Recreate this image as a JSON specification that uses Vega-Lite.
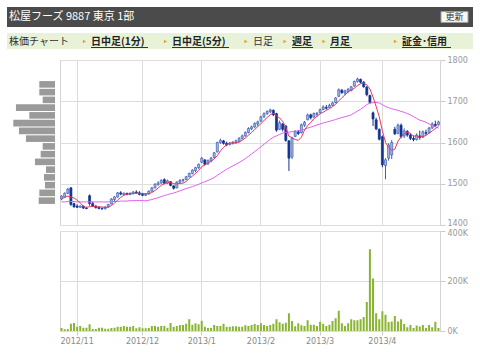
{
  "$schema": "https://vega.github.io/schema/vega-lite/v6.json",
  "background": "white",
  "padding": {"left": 7, "top": 7, "right": 7, "bottom": 4},
  "config": {"font": "DejaVu Sans", "view": {"stroke": null}},
  "datasets": {
    "px": [
      {"d":"2012-10-25","o":1463,"h":1472,"l":1460,"c":1470,"v":12000,"m5":1464,"m25":1456},
      {"d":"2012-10-26","o":1468,"h":1479,"l":1466,"c":1477,"v":7000,"m5":1467,"m25":1456},
      {"d":"2012-10-29","o":1477,"h":1490,"l":1475,"c":1487,"v":8000,"m5":1470,"m25":1457},
      {"d":"2012-10-30","o":1490,"h":1492,"l":1446,"c":1450,"v":29000,"m5":1468,"m25":1457},
      {"d":"2012-10-31","o":1452,"h":1454,"l":1442,"c":1444,"v":32000,"m5":1465.6,"m25":1457},
      {"d":"2012-11-01","o":1446,"h":1450,"l":1441,"c":1443,"v":17000,"m5":1460.2,"m25":1456},
      {"d":"2012-11-02","o":1443,"h":1448,"l":1441,"c":1446,"v":20000,"m5":1454,"m25":1456},
      {"d":"2012-11-05","o":1446,"h":1447,"l":1439,"c":1441,"v":13000,"m5":1444.8,"m25":1456},
      {"d":"2012-11-06","o":1441,"h":1444,"l":1438,"c":1440,"v":13000,"m5":1442.8,"m25":1456},
      {"d":"2012-11-07","o":1471,"h":1474,"l":1447,"c":1452,"v":27000,"m5":1444.4,"m25":1456},
      {"d":"2012-11-08","o":1452,"h":1457,"l":1444,"c":1446,"v":8000,"m5":1445,"m25":1456},
      {"d":"2012-11-09","o":1446,"h":1448,"l":1440,"c":1442,"v":8000,"m5":1444.2,"m25":1456},
      {"d":"2012-11-12","o":1443,"h":1445,"l":1438,"c":1440,"v":13000,"m5":1444,"m25":1456},
      {"d":"2012-11-13","o":1440,"h":1443,"l":1437,"c":1439,"v":13000,"m5":1443.8,"m25":1456},
      {"d":"2012-11-14","o":1439,"h":1445,"l":1438,"c":1444,"v":9000,"m5":1442.2,"m25":1456},
      {"d":"2012-11-15","o":1444,"h":1451,"l":1442,"c":1450,"v":9000,"m5":1443,"m25":1456},
      {"d":"2012-11-16","o":1451,"h":1465,"l":1450,"c":1463,"v":12000,"m5":1447.2,"m25":1457},
      {"d":"2012-11-19","o":1462,"h":1470,"l":1456,"c":1468,"v":13000,"m5":1452.8,"m25":1457},
      {"d":"2012-11-20","o":1468,"h":1480,"l":1466,"c":1478,"v":17000,"m5":1460.6,"m25":1457},
      {"d":"2012-11-21","o":1478,"h":1482,"l":1472,"c":1475,"v":17000,"m5":1466.8,"m25":1458},
      {"d":"2012-11-22","o":1474,"h":1479,"l":1472,"c":1477,"v":20000,"m5":1472.2,"m25":1458},
      {"d":"2012-11-26","o":1477,"h":1478,"l":1472,"c":1474,"v":17000,"m5":1474.4,"m25":1458},
      {"d":"2012-11-27","o":1474,"h":1479,"l":1472,"c":1477,"v":17000,"m5":1476.2,"m25":1459},
      {"d":"2012-11-28","o":1476,"h":1482,"l":1474,"c":1480,"v":20000,"m5":1476.6,"m25":1459},
      {"d":"2012-11-29","o":1480,"h":1484,"l":1476,"c":1478,"v":11000,"m5":1477.2,"m25":1459.2},
      {"d":"2012-11-30","o":1478,"h":1482,"l":1472,"c":1474,"v":15000,"m5":1476.6,"m25":1459.4},
      {"d":"2012-12-03","o":1474,"h":1478,"l":1470,"c":1472,"v":11000,"m5":1476.2,"m25":1459.2},
      {"d":"2012-12-04","o":1472,"h":1477,"l":1470,"c":1475,"v":11000,"m5":1475.8,"m25":1458.7},
      {"d":"2012-12-05","o":1475,"h":1484,"l":1474,"c":1482,"v":12000,"m5":1476.2,"m25":1460},
      {"d":"2012-12-06","o":1482,"h":1492,"l":1481,"c":1490,"v":20000,"m5":1478.6,"m25":1461.8},
      {"d":"2012-12-07","o":1490,"h":1501,"l":1489,"c":1499,"v":20000,"m5":1483.6,"m25":1464.1},
      {"d":"2012-12-10","o":1498,"h":1506,"l":1495,"c":1502,"v":17000,"m5":1489.6,"m25":1466.3},
      {"d":"2012-12-11","o":1502,"h":1511,"l":1499,"c":1508,"v":20000,"m5":1496.2,"m25":1469},
      {"d":"2012-12-12","o":1510,"h":1513,"l":1499,"c":1501,"v":20000,"m5":1500,"m25":1471.4},
      {"d":"2012-12-13","o":1501,"h":1510,"l":1500,"c":1507,"v":13000,"m5":1503.4,"m25":1473.6},
      {"d":"2012-12-14","o":1505,"h":1506,"l":1494,"c":1496,"v":32000,"m5":1502.8,"m25":1475.6},
      {"d":"2012-12-17","o":1495,"h":1496,"l":1486,"c":1489,"v":17000,"m5":1500.2,"m25":1477.5},
      {"d":"2012-12-18","o":1490,"h":1506,"l":1489,"c":1504,"v":20000,"m5":1499.4,"m25":1480.1},
      {"d":"2012-12-19","o":1504,"h":1511,"l":1501,"c":1508,"v":24000,"m5":1500.8,"m25":1482.8},
      {"d":"2012-12-20","o":1508,"h":1512,"l":1503,"c":1510,"v":24000,"m5":1501.4,"m25":1485.5},
      {"d":"2012-12-21","o":1510,"h":1519,"l":1509,"c":1517,"v":29000,"m5":1505.6,"m25":1488.2},
      {"d":"2012-12-25","o":1517,"h":1527,"l":1516,"c":1525,"v":47000,"m5":1512.8,"m25":1490.6},
      {"d":"2012-12-26","o":1525,"h":1535,"l":1523,"c":1533,"v":25000,"m5":1518.6,"m25":1493.2},
      {"d":"2012-12-27","o":1532,"h":1541,"l":1528,"c":1539,"v":31000,"m5":1524.8,"m25":1495.7},
      {"d":"2012-12-28","o":1539,"h":1549,"l":1536,"c":1547,"v":27000,"m5":1532.2,"m25":1498.6},
      {"d":"2013-01-04","o":1552,"h":1565,"l":1550,"c":1562,"v":41000,"m5":1541.2,"m25":1502},
      {"d":"2013-01-07","o":1558,"h":1559,"l":1544,"c":1547,"v":17000,"m5":1545.6,"m25":1504.9},
      {"d":"2013-01-08","o":1548,"h":1559,"l":1546,"c":1556,"v":12000,"m5":1550.2,"m25":1508},
      {"d":"2013-01-09","o":1555,"h":1565,"l":1552,"c":1562,"v":12000,"m5":1554.8,"m25":1511.3},
      {"d":"2013-01-10","o":1564,"h":1577,"l":1562,"c":1575,"v":24000,"m5":1560.4,"m25":1515.2},
      {"d":"2013-01-11","o":1577,"h":1602,"l":1576,"c":1600,"v":20000,"m5":1568,"m25":1520.2},
      {"d":"2013-01-15","o":1600,"h":1609,"l":1597,"c":1605,"v":20000,"m5":1579.6,"m25":1525.6},
      {"d":"2013-01-16","o":1604,"h":1606,"l":1595,"c":1598,"v":29000,"m5":1588,"m25":1530.5},
      {"d":"2013-01-17","o":1598,"h":1602,"l":1591,"c":1594,"v":17000,"m5":1594.4,"m25":1535},
      {"d":"2013-01-18","o":1595,"h":1601,"l":1593,"c":1598,"v":17000,"m5":1599,"m25":1539.3},
      {"d":"2013-01-21","o":1598,"h":1604,"l":1595,"c":1600,"v":19000,"m5":1599,"m25":1543.3},
      {"d":"2013-01-22","o":1600,"h":1607,"l":1597,"c":1604,"v":19000,"m5":1598.8,"m25":1547.4},
      {"d":"2013-01-23","o":1603,"h":1613,"l":1600,"c":1610,"v":17000,"m5":1601.2,"m25":1551.5},
      {"d":"2013-01-24","o":1610,"h":1619,"l":1607,"c":1616,"v":17000,"m5":1605.6,"m25":1556.1},
      {"d":"2013-01-25","o":1616,"h":1627,"l":1614,"c":1624,"v":23000,"m5":1610.8,"m25":1560.8},
      {"d":"2013-01-28","o":1624,"h":1637,"l":1622,"c":1634,"v":20000,"m5":1617.6,"m25":1566.3},
      {"d":"2013-01-29","o":1633,"h":1641,"l":1630,"c":1638,"v":24000,"m5":1624.4,"m25":1572.2},
      {"d":"2013-01-30","o":1638,"h":1649,"l":1635,"c":1646,"v":28000,"m5":1631.6,"m25":1577.9},
      {"d":"2013-01-31","o":1645,"h":1653,"l":1639,"c":1650,"v":24000,"m5":1638.4,"m25":1583.6},
      {"d":"2013-02-01","o":1652,"h":1665,"l":1650,"c":1662,"v":31000,"m5":1646,"m25":1589.7},
      {"d":"2013-02-04","o":1662,"h":1673,"l":1660,"c":1670,"v":24000,"m5":1653.2,"m25":1595.8},
      {"d":"2013-02-05","o":1670,"h":1678,"l":1667,"c":1675,"v":20000,"m5":1660.6,"m25":1601.8},
      {"d":"2013-02-06","o":1675,"h":1682,"l":1671,"c":1679,"v":24000,"m5":1667.2,"m25":1607.6},
      {"d":"2013-02-07","o":1678,"h":1680,"l":1664,"c":1667,"v":29000,"m5":1670.6,"m25":1612.8},
      {"d":"2013-02-08","o":1670,"h":1672,"l":1626,"c":1630,"v":47000,"m5":1664.2,"m25":1616.1},
      {"d":"2013-02-12","o":1632,"h":1653,"l":1630,"c":1648,"v":35000,"m5":1659.8,"m25":1619.5},
      {"d":"2013-02-13","o":1645,"h":1647,"l":1627,"c":1632,"v":29000,"m5":1651.2,"m25":1622.9},
      {"d":"2013-02-14","o":1640,"h":1642,"l":1602,"c":1605,"v":33000,"m5":1636.4,"m25":1624.9},
      {"d":"2013-02-15","o":1604,"h":1606,"l":1531,"c":1562,"v":71000,"m5":1615.4,"m25":1624.9},
      {"d":"2013-02-18","o":1565,"h":1614,"l":1560,"c":1611,"v":40000,"m5":1611.6,"m25":1626.3},
      {"d":"2013-02-19","o":1615,"h":1630,"l":1613,"c":1626,"v":19000,"m5":1607.2,"m25":1627.4},
      {"d":"2013-02-20","o":1626,"h":1630,"l":1618,"c":1622,"v":31000,"m5":1605.2,"m25":1628},
      {"d":"2013-02-21","o":1624,"h":1646,"l":1622,"c":1643,"v":23000,"m5":1612.8,"m25":1629.8},
      {"d":"2013-02-22","o":1642,"h":1652,"l":1638,"c":1649,"v":20000,"m5":1630.2,"m25":1632},
      {"d":"2013-02-25","o":1655,"h":1670,"l":1654,"c":1667,"v":43000,"m5":1641.4,"m25":1634.8},
      {"d":"2013-02-26","o":1667,"h":1670,"l":1656,"c":1660,"v":25000,"m5":1648.2,"m25":1637.2},
      {"d":"2013-02-27","o":1662,"h":1673,"l":1660,"c":1670,"v":25000,"m5":1657.8,"m25":1639.8},
      {"d":"2013-02-28","o":1668,"h":1674,"l":1663,"c":1671,"v":20000,"m5":1663.4,"m25":1642.3},
      {"d":"2013-03-01","o":1673,"h":1682,"l":1670,"c":1680,"v":37000,"m5":1669.6,"m25":1644.8},
      {"d":"2013-03-04","o":1680,"h":1690,"l":1678,"c":1686,"v":29000,"m5":1673.4,"m25":1647.3},
      {"d":"2013-03-05","o":1685,"h":1691,"l":1680,"c":1683,"v":20000,"m5":1678,"m25":1649.3},
      {"d":"2013-03-06","o":1685,"h":1694,"l":1684,"c":1690,"v":25000,"m5":1682,"m25":1651.4},
      {"d":"2013-03-07","o":1690,"h":1699,"l":1688,"c":1696,"v":40000,"m5":1687,"m25":1653.4},
      {"d":"2013-03-08","o":1697,"h":1710,"l":1695,"c":1708,"v":51000,"m5":1692.6,"m25":1655.7},
      {"d":"2013-03-11","o":1712,"h":1731,"l":1710,"c":1728,"v":81000,"m5":1701,"m25":1658.3},
      {"d":"2013-03-12","o":1727,"h":1729,"l":1718,"c":1721,"v":31000,"m5":1708.6,"m25":1660.4},
      {"d":"2013-03-13","o":1720,"h":1728,"l":1715,"c":1725,"v":20000,"m5":1715.6,"m25":1662.4},
      {"d":"2013-03-14","o":1724,"h":1732,"l":1721,"c":1729,"v":31000,"m5":1722.2,"m25":1664.4},
      {"d":"2013-03-15","o":1726,"h":1737,"l":1724,"c":1735,"v":47000,"m5":1727.6,"m25":1667.1},
      {"d":"2013-03-18","o":1737,"h":1750,"l":1735,"c":1748,"v":43000,"m5":1731.6,"m25":1671.8},
      {"d":"2013-03-19","o":1748,"h":1757,"l":1745,"c":1754,"v":43000,"m5":1738.2,"m25":1676},
      {"d":"2013-03-21","o":1753,"h":1755,"l":1743,"c":1746,"v":47000,"m5":1742.4,"m25":1680.6},
      {"d":"2013-03-22","o":1746,"h":1749,"l":1733,"c":1735,"v":56000,"m5":1743.6,"m25":1685.8},
      {"d":"2013-03-25","o":1734,"h":1737,"l":1712,"c":1716,"v":116000,"m5":1739.8,"m25":1692},
      {"d":"2013-03-26","o":1714,"h":1716,"l":1694,"c":1697,"v":327000,"m5":1729.6,"m25":1695.4},
      {"d":"2013-03-27","o":1672,"h":1675,"l":1640,"c":1657,"v":210000,"m5":1710.2,"m25":1696.6},
      {"d":"2013-03-28","o":1655,"h":1660,"l":1630,"c":1633,"v":71000,"m5":1687.6,"m25":1697.1},
      {"d":"2013-03-29","o":1632,"h":1634,"l":1605,"c":1608,"v":47000,"m5":1662.2,"m25":1695.7},
      {"d":"2013-04-01","o":1614,"h":1617,"l":1540,"c":1546,"v":79000,"m5":1628.2,"m25":1691.6},
      {"d":"2013-04-02","o":1544,"h":1562,"l":1511,"c":1558,"v":65000,"m5":1600.4,"m25":1687.2},
      {"d":"2013-04-03","o":1562,"h":1598,"l":1556,"c":1594,"v":36000,"m5":1587.8,"m25":1684.6},
      {"d":"2013-04-04","o":1570,"h":1606,"l":1560,"c":1600,"v":38000,"m5":1581.2,"m25":1681.8},
      {"d":"2013-04-05","o":1632,"h":1638,"l":1618,"c":1621,"v":60000,"m5":1583.8,"m25":1679.8},
      {"d":"2013-04-08","o":1622,"h":1646,"l":1620,"c":1642,"v":38000,"m5":1603,"m25":1678.2},
      {"d":"2013-04-09","o":1642,"h":1646,"l":1610,"c":1614,"v":47000,"m5":1614.2,"m25":1675.4},
      {"d":"2013-04-10","o":1616,"h":1634,"l":1611,"c":1628,"v":28000,"m5":1621,"m25":1673.2},
      {"d":"2013-04-11","o":1627,"h":1630,"l":1614,"c":1618,"v":15000,"m5":1624.6,"m25":1670.3},
      {"d":"2013-04-12","o":1618,"h":1622,"l":1606,"c":1610,"v":24000,"m5":1622.4,"m25":1666.8},
      {"d":"2013-04-15","o":1610,"h":1617,"l":1603,"c":1607,"v":12000,"m5":1615.4,"m25":1662.8},
      {"d":"2013-04-16","o":1607,"h":1622,"l":1605,"c":1618,"v":22000,"m5":1616.2,"m25":1658.4},
      {"d":"2013-04-17","o":1616,"h":1629,"l":1607,"c":1612,"v":18000,"m5":1613,"m25":1654},
      {"d":"2013-04-18","o":1613,"h":1629,"l":1611,"c":1626,"v":24000,"m5":1614.6,"m25":1652},
      {"d":"2013-04-19","o":1624,"h":1631,"l":1618,"c":1622,"v":12000,"m5":1617,"m25":1649},
      {"d":"2013-04-22","o":1624,"h":1638,"l":1622,"c":1635,"v":24000,"m5":1622.6,"m25":1645},
      {"d":"2013-04-23","o":1635,"h":1649,"l":1633,"c":1645,"v":15000,"m5":1628,"m25":1641},
      {"d":"2013-04-24","o":1644,"h":1653,"l":1638,"c":1641,"v":37000,"m5":1633.8,"m25":1638},
      {"d":"2013-04-25","o":1643,"h":1653,"l":1641,"c":1650,"v":12000,"m5":1638.6,"m25":1635}
    ],
    "hist": [
      {"price":1750,"vol":196},{"price":1730,"vol":196},{"price":1710,"vol":154},{"price":1690,"vol":488},
      {"price":1670,"vol":321},{"price":1650,"vol":521},{"price":1630,"vol":450},{"price":1610,"vol":363},
      {"price":1590,"vol":154},{"price":1570,"vol":179},{"price":1550,"vol":250},{"price":1530,"vol":113},
      {"price":1510,"vol":138},{"price":1490,"vol":125},{"price":1470,"vol":196},{"price":1450,"vol":204}
    ]
  },
  "spacing": 6,
  "vconcat": [
    {
      "width": 466, "height": 20,
      "view": {"fill": "#4b4b4b", "stroke": null},
      "data": {"values": [{"title": "松屋フーズ 9887 東京 1部", "button": "更新"}]},
      "layer": [
        {"mark": {"type": "text", "align": "left", "baseline": "middle", "font": "Noto Sans CJK JP", "fontSize": 11, "color": "#ffffff"},
         "encoding": {"x": {"datum": 2, "type": "quantitative", "scale": {"domain": [0, 466], "nice": false, "zero": false}, "axis": null}, "text": {"field": "title"}}},
        {"mark": {"type": "point", "shape": "M-1,-0.4L1,-0.4L1,0.4L-1,0.4Z", "filled": true, "fill": "#f7f7f7", "stroke": "#a0a0a0", "strokeWidth": 1, "size": 729, "opacity": 1},
         "encoding": {"x": {"datum": 447.5, "type": "quantitative"}}},
        {"mark": {"type": "text", "align": "center", "baseline": "middle", "font": "Noto Sans CJK JP", "fontSize": 9, "color": "#333333"},
         "encoding": {"x": {"datum": 447.5, "type": "quantitative"}, "text": {"field": "button"}}}
      ]
    },
    {
      "width": 466, "height": 16,
      "view": {"fill": "#e7f2d8", "stroke": null},
      "data": {"values": [{"a": "株価チャート", "b": "日中足(1分)", "c": "日中足(5分)", "d": "日足", "e": "週足", "f": "月足", "g": "証金･信用"}]},
      "layer": [
        {"mark": {"type": "text", "align": "left", "baseline": "middle", "font": "Noto Sans CJK JP", "fontSize": 10, "color": "#333333"},
         "encoding": {"x": {"datum": 2, "type": "quantitative", "scale": {"domain": [0, 466], "nice": false, "zero": false}, "axis": null},
                      "y": {"datum": 7, "type": "quantitative", "scale": {"domain": [0, 16], "nice": false, "zero": false}, "axis": null},
                      "text": {"field": "a"}}},
        {"mark": {"type": "text", "align": "left", "baseline": "middle", "font": "Noto Sans CJK JP", "fontSize": 10, "fontWeight": "bold", "color": "#222222"},
         "encoding": {"x": {"datum": 84, "type": "quantitative"}, "y": {"datum": 7, "type": "quantitative"}, "text": {"field": "b"}}},
        {"mark": {"type": "text", "align": "left", "baseline": "middle", "font": "Noto Sans CJK JP", "fontSize": 10, "fontWeight": "bold", "color": "#222222"},
         "encoding": {"x": {"datum": 165, "type": "quantitative"}, "y": {"datum": 7, "type": "quantitative"}, "text": {"field": "c"}}},
        {"mark": {"type": "text", "align": "left", "baseline": "middle", "font": "Noto Sans CJK JP", "fontSize": 10, "color": "#333333"},
         "encoding": {"x": {"datum": 246, "type": "quantitative"}, "y": {"datum": 7, "type": "quantitative"}, "text": {"field": "d"}}},
        {"mark": {"type": "text", "align": "left", "baseline": "middle", "font": "Noto Sans CJK JP", "fontSize": 10, "fontWeight": "bold", "color": "#222222"},
         "encoding": {"x": {"datum": 285, "type": "quantitative"}, "y": {"datum": 7, "type": "quantitative"}, "text": {"field": "e"}}},
        {"mark": {"type": "text", "align": "left", "baseline": "middle", "font": "Noto Sans CJK JP", "fontSize": 10, "fontWeight": "bold", "color": "#222222"},
         "encoding": {"x": {"datum": 323, "type": "quantitative"}, "y": {"datum": 7, "type": "quantitative"}, "text": {"field": "f"}}},
        {"mark": {"type": "text", "align": "left", "baseline": "middle", "font": "Noto Sans CJK JP", "fontSize": 10, "fontWeight": "bold", "color": "#222222"},
         "encoding": {"x": {"datum": 395, "type": "quantitative"}, "y": {"datum": 7, "type": "quantitative"}, "text": {"field": "g"}}},
        {"mark": {"type": "point", "shape": "triangle-right", "filled": true, "color": "#f29b1e", "size": 14, "opacity": 1},
         "encoding": {"x": {"datum": 77.5, "type": "quantitative"}, "y": {"datum": 7.5, "type": "quantitative"}}},
        {"mark": {"type": "point", "shape": "triangle-right", "filled": true, "color": "#f29b1e", "size": 14, "opacity": 1},
         "encoding": {"x": {"datum": 158.5, "type": "quantitative"}, "y": {"datum": 7.5, "type": "quantitative"}}},
        {"mark": {"type": "point", "shape": "triangle-right", "filled": true, "color": "#f29b1e", "size": 14, "opacity": 1},
         "encoding": {"x": {"datum": 239, "type": "quantitative"}, "y": {"datum": 7.5, "type": "quantitative"}}},
        {"mark": {"type": "point", "shape": "triangle-right", "filled": true, "color": "#f29b1e", "size": 14, "opacity": 1},
         "encoding": {"x": {"datum": 278, "type": "quantitative"}, "y": {"datum": 7.5, "type": "quantitative"}}},
        {"mark": {"type": "point", "shape": "triangle-right", "filled": true, "color": "#f29b1e", "size": 14, "opacity": 1},
         "encoding": {"x": {"datum": 317, "type": "quantitative"}, "y": {"datum": 7.5, "type": "quantitative"}}},
        {"mark": {"type": "point", "shape": "triangle-right", "filled": true, "color": "#f29b1e", "size": 14, "opacity": 1},
         "encoding": {"x": {"datum": 388.5, "type": "quantitative"}, "y": {"datum": 7.5, "type": "quantitative"}}},
        {"mark": {"type": "rule", "color": "#333333", "strokeWidth": 1},
         "encoding": {"x": {"datum": 84, "type": "quantitative"}, "x2": {"datum": 141}, "y": {"datum": 1.5, "type": "quantitative"}}},
        {"mark": {"type": "rule", "color": "#333333", "strokeWidth": 1},
         "encoding": {"x": {"datum": 165, "type": "quantitative"}, "x2": {"datum": 222}, "y": {"datum": 1.5, "type": "quantitative"}}},
        {"mark": {"type": "rule", "color": "#333333", "strokeWidth": 1},
         "encoding": {"x": {"datum": 285, "type": "quantitative"}, "x2": {"datum": 306}, "y": {"datum": 1.5, "type": "quantitative"}}},
        {"mark": {"type": "rule", "color": "#333333", "strokeWidth": 1},
         "encoding": {"x": {"datum": 323, "type": "quantitative"}, "x2": {"datum": 345}, "y": {"datum": 1.5, "type": "quantitative"}}},
        {"mark": {"type": "rule", "color": "#333333", "strokeWidth": 1},
         "encoding": {"x": {"datum": 395, "type": "quantitative"}, "x2": {"datum": 444}, "y": {"datum": 1.5, "type": "quantitative"}}}
      ]
    },
    {
      "bounds": "flush",
      "spacing": 5,
      "hconcat": [
        {
          "width": 48, "height": 165,
          "data": {"name": "hist"},
          "mark": {"type": "bar", "orient": "horizontal", "height": 6.6, "color": "#9a9a9a"},
          "encoding": {
            "y": {"field": "price", "type": "quantitative", "scale": {"domain": [1400, 1800], "nice": false, "zero": false}, "axis": null},
            "x": {"field": "vol", "type": "quantitative", "scale": {"domain": [0, 600], "reverse": true, "nice": false}, "axis": null}
          }
        },
        {
          "bounds": "flush",
          "spacing": 6,
          "vconcat": [
            {
              "width": 380, "height": 165,
              "data": {"name": "px"},
              "view": {"stroke": "#d4d4d4"},
              "encoding": {
                "x": {"field": "d", "type": "ordinal", "sort": null,
                      "scale": {"type": "band", "paddingInner": 0.35, "paddingOuter": 0.175},
                      "axis": {"values": ["2012-11-01", "2012-12-03", "2013-01-04", "2013-02-01", "2013-03-01", "2013-04-01"], "grid": true, "gridColor": "#dddddd", "labels": false, "ticks": false, "domain": false, "title": null, "bandPosition": 0.5}}
              },
              "layer": [
                {"mark": {"type": "rule", "strokeWidth": 1},
                 "encoding": {
                   "y": {"field": "l", "type": "quantitative", "title": null, "scale": {"domain": [1400, 1800], "nice": false, "zero": false},
                         "axis": {"orient": "right", "values": [1400, 1500, 1600, 1700, 1800], "format": "d", "grid": true, "gridColor": "#dddddd", "domain": false, "tickColor": "#cccccc", "tickSize": 5, "labelColor": "#999999", "labelFontSize": 8, "labelPadding": 2, "title": null,
                                  "labelOffset": {"condition": {"test": "datum.value == 1400", "value": -1.5}, "value": 0}}},
                   "y2": {"field": "h"},
                   "color": {"condition": {"test": "datum.c >= datum.o", "value": "#3d5db5"}, "value": "#14338f"}
                 }},
                {"mark": {"type": "bar", "strokeWidth": 0.7},
                 "encoding": {
                   "y": {"field": "o", "type": "quantitative", "title": null},
                   "y2": {"field": "c"},
                   "fill": {"condition": {"test": "datum.c >= datum.o", "value": "#a9bce4"}, "value": "#14338f"},
                   "stroke": {"condition": {"test": "datum.c >= datum.o", "value": "#3d5db5"}, "value": "#14338f"}
                 }},
                {"mark": {"type": "line", "color": "#e060f0", "strokeWidth": 1},
                 "encoding": {"y": {"field": "m25", "type": "quantitative", "title": null}}},
                {"mark": {"type": "line", "color": "#e8375f", "strokeWidth": 1},
                 "encoding": {"y": {"field": "m5", "type": "quantitative", "title": null}}}
              ]
            },
            {
              "width": 380, "height": 100,
              "data": {"name": "px"},
              "view": {"stroke": "#d4d4d4"},
              "mark": {"type": "bar", "color": "#8ab534"},
              "encoding": {
                "x": {"field": "d", "type": "ordinal", "sort": null,
                      "scale": {"type": "band", "paddingInner": 0.35, "paddingOuter": 0.175},
                      "axis": {"values": ["2012-11-01", "2012-12-03", "2013-01-04", "2013-02-01", "2013-03-01", "2013-04-01"],
                               "labelExpr": "slice(datum.value, 0, 4) + '/' + toNumber(slice(datum.value, 5, 7))",
                               "grid": true, "gridColor": "#dddddd", "labelAngle": 0, "labelColor": "#888888", "labelFontSize": 8,
                               "tickColor": "#cccccc", "tickSize": 4, "domain": false, "title": null, "bandPosition": 0.5, "labelPadding": 2}},
                "y": {"field": "v", "type": "quantitative", "scale": {"domain": [0, 400000], "nice": false},
                      "axis": {"orient": "right", "values": [0, 200000, 400000], "labelExpr": "datum.value / 1000 + 'K'", "grid": true, "gridColor": "#dddddd", "domain": false, "tickColor": "#cccccc", "tickSize": 5, "labelColor": "#999999", "labelFontSize": 8, "labelPadding": 2, "title": null,
                               "labelBaseline": {"condition": {"test": "datum.value == 400000", "value": "top"}, "value": "middle"},
                               "labelOffset": {"condition": {"test": "datum.value == 400000", "value": -2}, "value": 0}}}
              }
            }
          ]
        }
      ]
    }
  ]
}
